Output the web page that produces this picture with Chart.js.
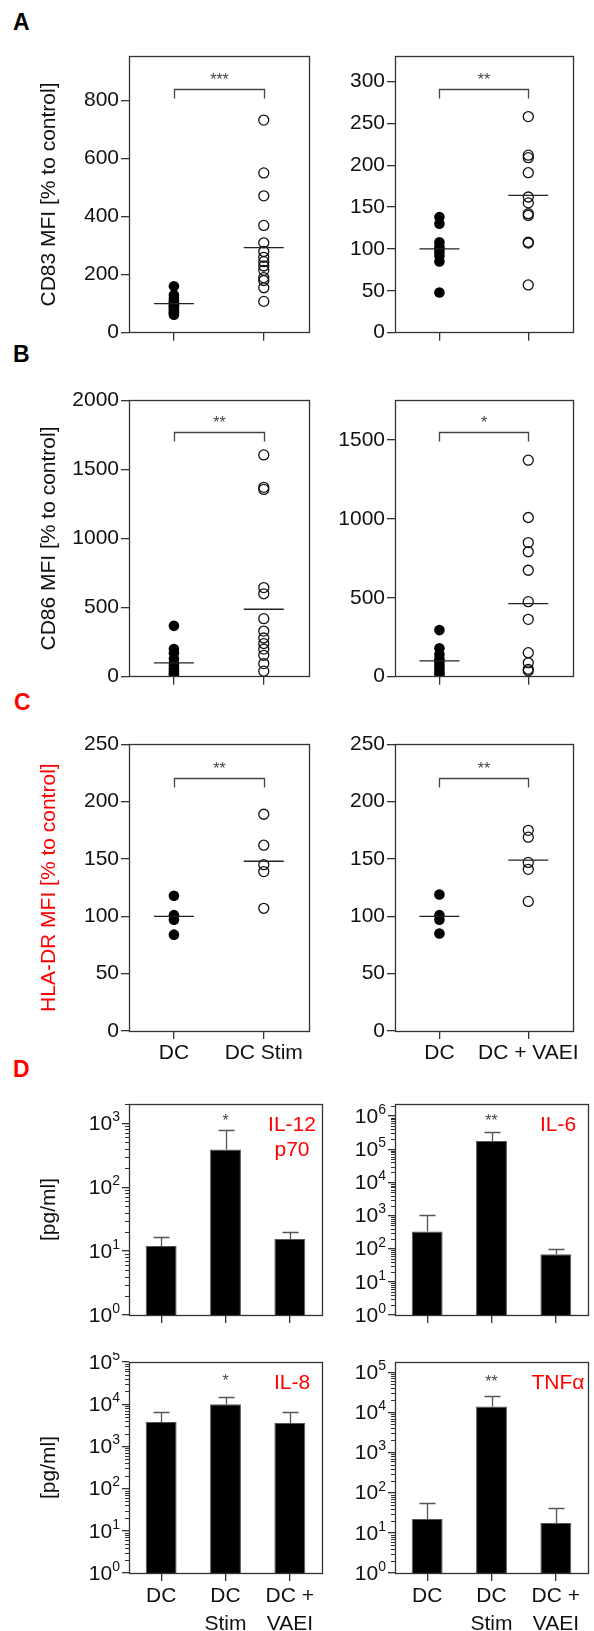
<!DOCTYPE html>
<html>
<head>
<meta charset="utf-8">
<script src="https://cdn.jsdelivr.net/npm/chart.js@4.4.1/dist/chart.umd.min.js"></script>
<style>
body { margin: 0; background: #fff; }
#fig { position: relative; width: 594px; height: 1631px; font-family: "Liberation Sans", Arial, Helvetica, sans-serif; }
#fig canvas { position: absolute; }
.tag { position: absolute; font-weight: bold; font-size: 23px; line-height: 1; }
</style>
</head>
<body>
<div id="fig">
  <div class="tag" style="left:13px;top:11px;color:#000">A</div>
  <div class="tag" style="left:13px;top:343px;color:#000">B</div>
  <div class="tag" style="left:14px;top:691px;color:#ff0000">C</div>
  <div class="tag" style="left:13px;top:1058px;color:#ff0000">D</div>
  <canvas id="cd83_stim"></canvas>
  <canvas id="cd83_vaei"></canvas>
  <canvas id="cd86_stim"></canvas>
  <canvas id="cd86_vaei"></canvas>
  <canvas id="hla_stim"></canvas>
  <canvas id="hla_vaei"></canvas>
  <canvas id="il12_chart"></canvas>
  <canvas id="il6_chart"></canvas>
  <canvas id="il8_chart"></canvas>
  <canvas id="tnf_chart"></canvas>
</div>
<script>
// categories
var catsStim = ['DC', 'DC Stim'];
var catsVaei = ['DC', 'DC + VAEI'];
var cytoCats = [['DC'], ['DC', 'Stim'], ['DC +', 'VAEI']];

// CD83 MFI, % of control
var cd83StimDC = [160, 130, 120, 112, 105, 100, 95, 90, 85, 80, 75, 70, 65, 62];
var cd83StimTreated = [733, 551, 472, 370, 310, 280, 260, 245, 230, 215, 190, 180, 155, 108];
var cd83StimMeans = [100, 293];
var cd83VaeiDC = [138, 130, 108, 103, 100, 96, 92, 85, 48];
var cd83VaeiTreated = [258, 212, 209, 191, 162, 155, 142, 140, 108, 107, 57];
var cd83VaeiMeans = [100, 164];

// CD86 MFI, % of control
var cd86StimDC = [368, 200, 170, 130, 100, 80, 60, 40, 25, 15];
var cd86StimTreated = [1605, 1370, 1355, 645, 600, 420, 330, 280, 240, 200, 155, 95, 40];
var cd86StimMeans = [100, 488];
var cd86VaeiDC = [295, 180, 140, 110, 90, 70, 50, 30, 15];
var cd86VaeiTreated = [1371, 1008, 849, 791, 674, 475, 363, 152, 88, 47, 37];
var cd86VaeiMeans = [100, 463];

// HLA-DR MFI, % of control
var hlaStimDC = [118, 101, 97, 84];
var hlaStimTreated = [189, 162, 145, 139, 107];
var hlaStimMeans = [100, 148];
var hlaVaeiDC = [119, 101, 97, 85];
var hlaVaeiTreated = [175, 169, 147, 141, 113];
var hlaVaeiMeans = [100, 149];

// y tick labels
var cd83StimTicks = [0, 200, 400, 600, 800];
var cd83VaeiTicks = [0, 50, 100, 150, 200, 250, 300];
var cd86StimTicks = [0, 500, 1000, 1500, 2000];
var cd86VaeiTicks = [0, 500, 1000, 1500];
var hlaTicks = [0, 50, 100, 150, 200, 250];

// cytokines [pg/ml]: bar = mean, err = mean + SD
var il12Mean = [12, 390, 15.5];
var il12Err = [16.5, 780, 20];
var il6Mean = [330, 175000, 68];
var il6Err = [1050, 330000, 95];
var il8Mean = [3800, 10000, 3600];
var il8Err = [6600, 15000, 6600];
var tnfMean = [22, 14000, 17.5];
var tnfErr = [55, 25000, 42];

var il12Ticks = [1, 10, 100, 1000];
var il6Ticks = [1, 10, 100, 1000, 10000, 100000, 1000000];
var il8Ticks = [1, 10, 100, 1000, 10000, 100000];
var tnfTicks = [1, 10, 100, 1000, 10000, 100000];

var fontFamily = '"Liberation Sans", Arial, Helvetica, sans-serif';
var ink = '#111';
var axisGrey = '#333';
var red = '#ff0000';

function place(id, col, top, height) {
	var c = document.getElementById(id);
	c.width = col === 0 ? 330 : 264;
	c.height = height;
	c.style.left = (col === 0 ? 0 : 330) + 'px';
	c.style.top = top + 'px';
	return c;
}

var framePlugin = {
	id: 'frame',
	afterDraw: function(chart) {
		var a = chart.chartArea, ctx = chart.ctx;
		ctx.save();
		ctx.strokeStyle = axisGrey;
		ctx.lineWidth = 1.3;
		ctx.strokeRect(Math.round(a.left) + 0.5, Math.round(a.top) + 0.5, Math.round(a.right - a.left), Math.round(a.bottom - a.top));
		ctx.restore();
	}
};

function bracketPlugin(yVal, text) {
	return {
		id: 'bracket',
		afterDraw: function(chart) {
			var xs = chart.scales.x, ys = chart.scales.y, ctx = chart.ctx;
			var x0 = Math.round(xs.getPixelForValue(0)) + 0.5;
			var x1 = Math.round(xs.getPixelForValue(1)) + 0.5;
			var yy = Math.round(ys.getPixelForValue(yVal)) + 0.5;
			ctx.save();
			ctx.strokeStyle = '#444';
			ctx.lineWidth = 1.3;
			ctx.beginPath();
			ctx.moveTo(x0, yy + 9);
			ctx.lineTo(x0, yy);
			ctx.lineTo(x1, yy);
			ctx.lineTo(x1, yy + 9);
			ctx.stroke();
			ctx.fillStyle = '#444';
			ctx.font = '16px ' + fontFamily;
			ctx.textAlign = 'center';
			ctx.textBaseline = 'middle';
			ctx.fillText(text, (x0 + x1) / 2, yy - 9);
			ctx.restore();
		}
	};
}

function errorBarPlugin(tops) {
	return {
		id: 'errorBars',
		afterDatasetsDraw: function(chart) {
			var ys = chart.scales.y, ctx = chart.ctx;
			ctx.save();
			ctx.strokeStyle = '#555';
			ctx.lineWidth = 1.3;
			chart.getDatasetMeta(0).data.forEach(function(bar, i) {
				var x = Math.round(bar.x) + 0.5;
				var yt = Math.round(ys.getPixelForValue(tops[i])) + 0.5;
				ctx.beginPath();
				ctx.moveTo(x, bar.y);
				ctx.lineTo(x, yt);
				ctx.moveTo(x - 8, yt);
				ctx.lineTo(x + 8, yt);
				ctx.stroke();
			});
			ctx.restore();
		}
	};
}

function labelPlugin(lines, star, starY) {
	return {
		id: 'cytoLabel',
		afterDraw: function(chart) {
			var a = chart.chartArea, ctx = chart.ctx;
			ctx.save();
			ctx.fillStyle = red;
			ctx.font = '21px ' + fontFamily;
			ctx.textAlign = 'center';
			ctx.textBaseline = 'middle';
			lines.forEach(function(t, i) {
				ctx.fillText(t, a.right - 30, a.top + 21 + i * 25);
			});
			ctx.fillStyle = '#444';
			ctx.font = '16px ' + fontFamily;
			ctx.fillText(star, chart.scales.x.getPixelForValue(1), chart.scales.y.getPixelForValue(starY) + 4);
			ctx.restore();
		}
	};
}

// minor ticks and 10^n labels on the log axes
var logAxisPlugin = {
	id: 'logAxis',
	afterDraw: function(chart) {
		var s = chart.scales.y, ctx = chart.ctx, left = chart.chartArea.left;
		ctx.save();
		ctx.strokeStyle = axisGrey;
		ctx.lineWidth = 1;
		var decades = Math.ceil(Math.log10(s.max));
		for (var d = 0; d < decades; d++) {
			for (var m = 2; m < 10; m++) {
				var v = m * Math.pow(10, d);
				if (v > s.max) break;
				var py = Math.round(s.getPixelForValue(v)) + 0.5;
				ctx.beginPath();
				ctx.moveTo(left - 4, py);
				ctx.lineTo(left, py);
				ctx.stroke();
			}
		}
		ctx.fillStyle = ink;
		ctx.textAlign = 'right';
		ctx.textBaseline = 'middle';
		s.ticks.forEach(function(t) {
			var p = String(Math.round(Math.log10(t.value)));
			var py = s.getPixelForValue(t.value);
			ctx.font = '14px ' + fontFamily;
			var w = ctx.measureText(p).width;
			ctx.fillText(p, left - 9, py - 6);
			ctx.font = '21px ' + fontFamily;
			ctx.fillText('10', left - 9 - w, py + 1);
		});
		ctx.restore();
	}
};

function scatterChart(canvas, col, cats, ctrl, treated, means, yMax, yTicks, xH, title, titleColor, sig) {
	var yTitle = { display: false };
	if (title) {
		yTitle = { display: true, text: title, color: titleColor, font: { family: fontFamily, size: 21 }, padding: { top: 37, bottom: 0 } };
	}
	return new Chart(canvas, {
		type: 'line',
		data: {
			labels: cats,
			datasets: [{
				data: means.map(function(v, i) { return { x: cats[i], y: v }; }),
				showLine: false,
				pointStyle: 'line',
				pointRadius: 20,
				pointBorderColor: '#222',
				pointBorderWidth: 1.3,
				order: 0
			}, {
				data: ctrl.map(function(v) { return { x: cats[0], y: v }; }),
				showLine: false,
				pointRadius: 5.3,
				pointBackgroundColor: '#000',
				pointBorderColor: '#000',
				pointBorderWidth: 0,
				order: 1
			}, {
				data: treated.map(function(v) { return { x: cats[1], y: v }; }),
				showLine: false,
				pointRadius: 5,
				pointBackgroundColor: 'rgba(255,255,255,0)',
				pointBorderColor: '#111',
				pointBorderWidth: 1.3,
				order: 2
			}]
		},
		options: {
			responsive: false,
			animation: false,
			events: [],
			layout: { padding: { top: 10, right: col === 0 ? 8 : 6, left: 0, bottom: 0 } },
			plugins: { legend: { display: false }, tooltip: { enabled: false } },
			scales: {
				x: {
					offset: true,
					grid: { drawOnChartArea: false, tickLength: 8, color: axisGrey, lineWidth: 1.3 },
					border: { display: false },
					ticks: { display: xH > 20, color: ink, font: { family: fontFamily, size: 21 }, padding: 2, maxRotation: 0, autoSkip: false },
					afterFit: function(s) { s.height = xH; }
				},
				y: {
					min: 0,
					max: yMax,
					afterBuildTicks: function(s) { s.ticks = yTicks.map(function(v) { return { value: v }; }); },
					grid: { drawOnChartArea: false, tickLength: 8, color: axisGrey, lineWidth: 1.3 },
					border: { display: false },
					ticks: { color: ink, font: { family: fontFamily, size: 21 }, padding: 2, callback: function(v) { return String(v); } },
					title: yTitle,
					afterFit: function(s) { s.width = col === 0 ? 129 : 65; }
				}
			}
		},
		plugins: [framePlugin, bracketPlugin(sig.y, sig.text)]
	});
}

function cytoChart(canvas, col, means, errs, yMax, yTicks, xH, title, name, star, starY) {
	var yTitle = { display: false };
	if (title) {
		yTitle = { display: true, text: title, color: ink, font: { family: fontFamily, size: 21 }, padding: { top: 37, bottom: 0 } };
	}
	return new Chart(canvas, {
		type: 'bar',
		data: {
			labels: cytoCats,
			datasets: [{
				data: means,
				backgroundColor: '#000',
				borderColor: '#555',
				borderWidth: 1,
				barPercentage: 0.48,
				categoryPercentage: 1
			}]
		},
		options: {
			responsive: false,
			animation: false,
			events: [],
			layout: { padding: { top: 10, right: col === 0 ? 8 : 6, left: 0, bottom: 0 } },
			plugins: { legend: { display: false }, tooltip: { enabled: false } },
			scales: {
				x: {
					grid: { offset: false, drawOnChartArea: false, tickLength: 8, color: axisGrey, lineWidth: 1.3 },
					border: { display: false },
					ticks: { display: xH > 20, color: ink, font: { family: fontFamily, size: 21, lineHeight: 1.3 }, padding: 2, maxRotation: 0, autoSkip: false },
					afterFit: function(s) { s.height = xH; }
				},
				y: {
					type: 'logarithmic',
					min: 1,
					max: yMax,
					afterBuildTicks: function(s) { s.ticks = yTicks.map(function(v) { return { value: v }; }); },
					grid: { drawOnChartArea: false, tickLength: 7, color: axisGrey, lineWidth: 1.3 },
					border: { display: false },
					ticks: { display: false },
					title: yTitle,
					afterFit: function(s) { s.width = col === 0 ? 129 : 65; }
				}
			}
		},
		plugins: [framePlugin, logAxisPlugin, errorBarPlugin(errs), labelPlugin(name, star, starY)]
	});
}

scatterChart(place('cd83_stim', 0, 35, 319), 0, catsStim, cd83StimDC, cd83StimTreated, cd83StimMeans, 953, cd83StimTicks, 10,
	'CD83 MFI [% to control]', ink, { y: 841, text: '***' });
scatterChart(place('cd83_vaei', 1, 35, 319), 1, catsVaei, cd83VaeiDC, cd83VaeiTreated, cd83VaeiMeans, 330, cd83VaeiTicks, 10,
	null, ink, { y: 291, text: '**' });
scatterChart(place('cd86_stim', 0, 379, 319), 0, catsStim, cd86StimDC, cd86StimTreated, cd86StimMeans, 2000, cd86StimTicks, 10,
	'CD86 MFI [% to control]', ink, { y: 1772, text: '**' });
scatterChart(place('cd86_vaei', 1, 379, 319), 1, catsVaei, cd86VaeiDC, cd86VaeiTreated, cd86VaeiMeans, 1750, cd86VaeiTicks, 10,
	null, ink, { y: 1552, text: '*' });
scatterChart(place('hla_stim', 0, 723, 348), 0, catsStim, hlaStimDC, hlaStimTreated, hlaStimMeans, 250, hlaTicks, 40,
	'HLA-DR MFI [% to control]', red, { y: 221, text: '**' });
scatterChart(place('hla_vaei', 1, 723, 348), 1, catsVaei, hlaVaeiDC, hlaVaeiTreated, hlaVaeiMeans, 250, hlaTicks, 40,
	null, ink, { y: 221, text: '**' });

cytoChart(place('il12_chart', 0, 1094, 231), 0, il12Mean, il12Err, 2000, il12Ticks, 10, '[pg/ml]', ['IL-12', 'p70'], '*', 1230);
cytoChart(place('il6_chart', 1, 1094, 231), 1, il6Mean, il6Err, 2300000, il6Ticks, 10, null, ['IL-6'], '**', 870000);
cytoChart(place('il8_chart', 0, 1352, 279), 0, il8Mean, il8Err, 100000, il8Ticks, 58, '[pg/ml]', ['IL-8'], '*', 42000);
cytoChart(place('tnf_chart', 1, 1352, 279), 1, tnfMean, tnfErr, 180000, tnfTicks, 58, null, ['TNFα'], '**', 71000);
</script>
</body>
</html>
